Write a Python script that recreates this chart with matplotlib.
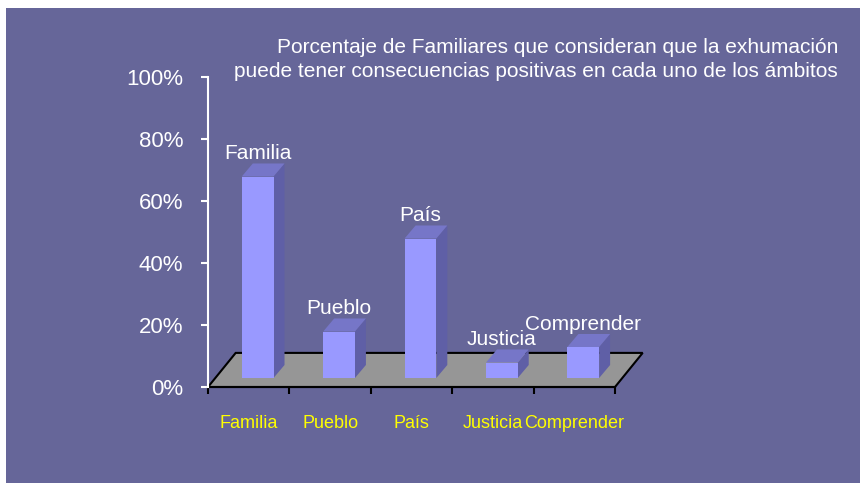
import matplotlib
matplotlib.use("Agg")
import matplotlib.pyplot as plt
from matplotlib.patches import Polygon, Rectangle
from matplotlib import font_manager
import numpy as np

categories = ["Familia", "Pueblo", "País", "Justicia", "Comprender"]
values = [65, 15, 45, 5, 10]
yticks = [0, 20, 40, 60, 80, 100]
title = ("Porcentaje de Familiares que consideran que la exhumación\n"
         "puede tener consecuencias positivas en cada uno de los ámbitos")

bg = "#666699"
front_c = "#9999ff"
top_c = "#7676c8"
side_c = "#5f5fa6"
floor_c = "#969696"

plt.rcParams['font.family'] = ['Liberation Sans', 'DejaVu Sans']

# the category labels are in a narrow face; use one if there is one
names = {f.name for f in font_manager.fontManager.ttflist}
if 'Liberation Sans Narrow' in names:
    xfont, xsize = ['Liberation Sans Narrow', 'Liberation Sans'], 16
else:
    xfont, xsize = ['Liberation Sans', 'DejaVu Sans'], 13

fig = plt.figure(figsize=(8.6, 4.83), dpi=100, facecolor=bg)
fig.patches.append(Rectangle((0, 1 - 8 / 483), 1, 8 / 483, transform=fig.transFigure,
                             facecolor="white", edgecolor="none", zorder=0))
fig.patches.append(Rectangle((0, 0), 6 / 860, 1, transform=fig.transFigure,
                             facecolor="white", edgecolor="none", zorder=0))

ax = fig.add_axes([208 / 860, 96 / 483, 407 / 860, 310 / 483])
ax.set_facecolor("none")
ax.set_xlim(-0.5, 4.5)
ax.set_ylim(0, 100)

# 3d-ish offsets in data units
floor_dx, floor_dy = 0.34, 11.0
bar_dx, bar_dy = 0.135, 4.2
bar_y0 = 2.9
bar_w = 0.39

floor = Polygon([(-0.5, 0), (4.5, 0), (4.5 + floor_dx, floor_dy), (-0.5 + floor_dx, floor_dy)],
                closed=True, facecolor=floor_c, edgecolor="black", linewidth=1.5,
                clip_on=False, zorder=1)
ax.add_patch(floor)

for i, (cat, v) in enumerate(zip(categories, values)):
    x0 = i - 0.085
    x1 = x0 + bar_w
    y0 = bar_y0
    y1 = bar_y0 + v
    front = Polygon([(x0, y0), (x1, y0), (x1, y1), (x0, y1)], facecolor=front_c,
                    edgecolor="none", clip_on=False, zorder=3)
    side = Polygon([(x1, y0), (x1 + bar_dx, y0 + bar_dy), (x1 + bar_dx, y1 + bar_dy), (x1, y1)],
                   facecolor=side_c, edgecolor="none", clip_on=False, zorder=3)
    top = Polygon([(x0, y1), (x1, y1), (x1 + bar_dx, y1 + bar_dy), (x0 + bar_dx, y1 + bar_dy)],
                  facecolor=top_c, edgecolor="none", clip_on=False, zorder=3)
    for p in (side, top, front):
        ax.add_patch(p)
    ax.text((x0 + x1) / 2, y1 + 5.5, cat, ha="center", va="baseline", color="white",
            fontsize=15, clip_on=False, zorder=4)

for s in ("top", "right"):
    ax.spines[s].set_visible(False)
ax.spines["left"].set_color("white")
ax.spines["left"].set_linewidth(1.5)
ax.spines["bottom"].set_color("black")
ax.spines["bottom"].set_linewidth(1.5)
ax.spines["bottom"].set_zorder(2)

ax.set_yticks(yticks)
ax.set_yticklabels([f"{t}%" for t in yticks])
ax.tick_params(axis="y", colors="white", length=5, width=1.5, pad=13, labelsize=16)

ax.set_xticks(np.arange(-0.5, 5, 1))
ax.set_xticklabels([])
ax.set_xticks(np.arange(len(categories)), minor=True)
ax.set_xticklabels(categories, minor=True, fontfamily=xfont)
ax.tick_params(axis="x", which="major", colors="black", length=5, width=1.5)
ax.tick_params(axis="x", which="minor", length=0, pad=18 if xsize == 16 else 20,
               labelsize=xsize, labelcolor="#ffff00")

fig.text(838 / 860, 1 - 59.5 / 483, title, ha="right", va="center", multialignment="right",
         color="white", fontsize=15, linespacing=1.3)

fig.savefig("out.png", dpi=100, facecolor=bg)
